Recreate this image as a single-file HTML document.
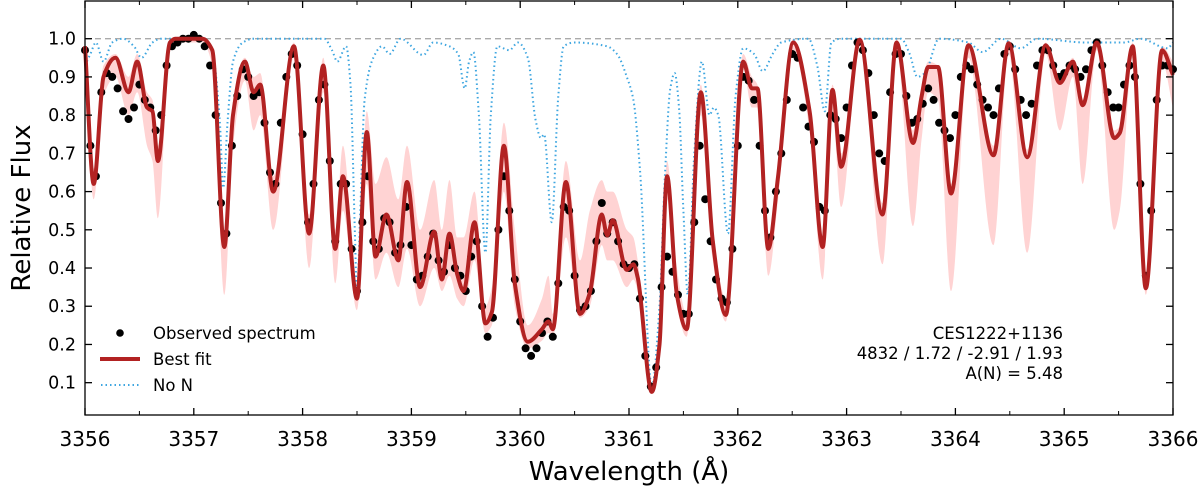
<!DOCTYPE html>
<html><head><meta charset="utf-8"><style>
html,body{margin:0;padding:0;background:#fff;}
svg{display:block;font-family:"DejaVu Sans","Liberation Sans",sans-serif;}
</style></head><body>
<svg id="chart" width="1200" height="493" viewBox="0 0 1200 493">
  <g id="band"></g>
  <line x1="85" x2="1173" y1="38.7" y2="38.7" stroke="#aaa" stroke-width="1.3" stroke-dasharray="6 4"/>
  <g id="nonl"></g>
  <g id="obs"></g>
  <g id="fit"></g>
  <g id="axes"></g>
  <g>
    <circle cx="120" cy="333" r="3.8" fill="#000"/>
    <text x="153" y="339" font-size="16.5">Observed spectrum</text>
    <line x1="100" x2="140" y1="359" y2="359" stroke="#b22222" stroke-width="4"/>
    <text x="153" y="365" font-size="16.5">Best fit</text>
    <line x1="101" x2="140" y1="385" y2="385" stroke="#3ea6e0" stroke-width="2" stroke-dasharray="1.5 3"/>
    <text x="153" y="391" font-size="16.5">No N</text>
  </g>
  <g text-anchor="end" font-size="16.5">
    <text x="1063" y="339">CES1222+1136</text>
    <text x="1063" y="359">4832 / 1.72 / -2.91 / 1.93</text>
    <text x="1063" y="379">A(N) = 5.48</text>
  </g>
  <text x="629" y="480" text-anchor="middle" font-size="26">Wavelength (Å)</text>
  <text transform="translate(30,208) rotate(-90)" text-anchor="middle" font-size="26">Relative Flux</text>
</svg>
<script>
const xTicks=[3356,3357,3358,3359,3360,3361,3362,3363,3364,3365,3366];
const yTicks=[0.1,0.2,0.3,0.4,0.5,0.6,0.7,0.8,0.9,1.0];
const fitWl=[3356.00,3356.08,3356.17,3356.28,3356.40,3356.48,3356.57,3356.62,3356.67,3356.78,3356.83,3357.08,3357.17,3357.28,3357.36,3357.47,3357.55,3357.61,3357.73,3357.92,3358.06,3358.19,3358.30,3358.37,3358.50,3358.59,3358.67,3358.77,3358.88,3358.96,3359.08,3359.21,3359.28,3359.35,3359.42,3359.48,3359.58,3359.68,3359.74,3359.85,3359.95,3360.07,3360.20,3360.26,3360.30,3360.42,3360.55,3360.64,3360.75,3360.80,3360.85,3360.98,3361.04,3361.08,3361.21,3361.28,3361.35,3361.44,3361.53,3361.66,3361.77,3361.89,3362.05,3362.13,3362.18,3362.28,3362.37,3362.51,3362.66,3362.78,3362.87,3362.95,3363.12,3363.33,3363.46,3363.61,3363.69,3363.75,3363.84,3363.96,3364.12,3364.35,3364.49,3364.66,3364.83,3364.96,3365.08,3365.17,3365.30,3365.46,3365.51,3365.63,3365.75,3365.90,3366.00];
const fitFlux=[0.98,0.62,0.90,0.95,0.86,0.94,0.82,0.81,0.68,0.99,1.00,1.00,0.97,0.455,0.80,0.94,0.86,0.88,0.60,0.98,0.49,0.93,0.45,0.64,0.32,0.756,0.43,0.54,0.42,0.625,0.35,0.495,0.37,0.49,0.385,0.34,0.52,0.255,0.285,0.72,0.36,0.207,0.24,0.26,0.24,0.625,0.28,0.335,0.54,0.485,0.525,0.395,0.41,0.375,0.076,0.20,0.64,0.33,0.24,0.86,0.47,0.277,0.94,0.87,0.87,0.45,0.64,0.99,0.81,0.455,0.866,0.665,0.997,0.54,0.99,0.727,0.85,0.926,0.926,0.595,0.983,0.695,0.988,0.69,0.983,0.884,0.94,0.826,0.99,0.74,0.753,0.98,0.347,0.97,0.905];
const bandLo=[0.96,0.58,0.85,0.90,0.80,0.86,0.72,0.68,0.53,0.97,0.99,0.99,0.93,0.33,0.72,0.89,0.76,0.80,0.50,0.95,0.40,0.86,0.36,0.55,0.29,0.62,0.37,0.44,0.35,0.45,0.30,0.40,0.34,0.38,0.32,0.30,0.42,0.23,0.25,0.60,0.30,0.19,0.21,0.23,0.22,0.48,0.27,0.30,0.46,0.42,0.42,0.35,0.37,0.34,0.07,0.18,0.58,0.30,0.22,0.80,0.42,0.26,0.92,0.82,0.82,0.38,0.58,0.97,0.76,0.37,0.80,0.56,0.98,0.41,0.97,0.51,0.74,0.86,0.84,0.34,0.95,0.46,0.96,0.44,0.96,0.76,0.90,0.62,0.97,0.50,0.55,0.95,0.33,0.94,0.82];
const bandHi=[0.99,0.66,0.93,0.96,0.90,0.96,0.86,0.84,0.72,1.0,1.0,1.0,0.98,0.50,0.84,0.95,0.90,0.91,0.64,0.99,0.54,0.95,0.50,0.72,0.36,0.81,0.62,0.69,0.58,0.72,0.50,0.63,0.50,0.63,0.48,0.48,0.60,0.30,0.35,0.78,0.50,0.25,0.32,0.38,0.28,0.68,0.42,0.55,0.63,0.60,0.60,0.50,0.48,0.42,0.09,0.24,0.68,0.40,0.28,0.88,0.50,0.32,0.96,0.90,0.88,0.48,0.68,1.0,0.83,0.48,0.88,0.70,1.0,0.57,1.0,0.76,0.88,0.94,0.93,0.62,0.99,0.72,0.99,0.71,0.99,0.89,0.95,0.84,1.0,0.76,0.77,0.99,0.38,0.98,0.94];
const noNWl=[3356.00,3356.05,3356.10,3356.17,3356.25,3356.35,3356.45,3356.52,3356.62,3356.70,3357.10,3357.18,3357.24,3357.27,3357.31,3357.36,3357.45,3357.55,3358.20,3358.27,3358.32,3358.40,3358.44,3358.48,3358.50,3358.53,3358.57,3358.65,3358.73,3358.80,3358.90,3359.11,3359.20,3359.35,3359.43,3359.49,3359.53,3359.57,3359.62,3359.68,3359.73,3359.79,3359.90,3359.98,3360.07,3360.14,3360.19,3360.22,3360.29,3360.35,3360.40,3360.50,3360.80,3360.89,3360.98,3361.04,3361.10,3361.21,3361.28,3361.33,3361.38,3361.42,3361.46,3361.50,3361.54,3361.60,3361.67,3361.74,3361.78,3361.82,3361.91,3361.98,3362.05,3362.15,3362.23,3362.32,3362.40,3362.65,3362.73,3362.80,3362.86,3362.95,3363.50,3363.58,3363.65,3363.72,3363.85,3364.12,3364.25,3364.42,3364.60,3364.75,3365.20,3365.55,3365.70,3365.95,3366.00];
const noNFlux=[0.93,0.96,0.99,0.94,0.99,1.0,0.98,0.95,0.99,1.0,1.0,0.95,0.78,0.61,0.78,0.94,0.99,1.0,1.0,0.97,0.94,0.98,0.88,0.50,0.33,0.55,0.84,0.95,0.98,0.96,1.0,0.957,0.99,0.98,0.96,0.87,0.94,0.965,0.80,0.44,0.80,0.98,0.97,0.99,0.95,0.79,0.74,0.75,0.52,0.85,0.98,0.99,0.98,0.96,0.90,0.84,0.66,0.09,0.30,0.64,0.87,0.91,0.82,0.55,0.33,0.70,0.94,0.80,0.82,0.80,0.49,0.85,0.975,0.96,0.915,0.96,0.99,1.0,0.93,0.81,0.99,1.0,1.0,0.96,0.90,0.91,1.0,0.99,0.965,1.0,0.975,1.0,0.99,0.99,1.0,0.975,0.99];
const obsStart=3356.00, obsStep=0.05;
const obsFlux=[0.97,0.72,0.64,0.86,0.91,0.90,0.87,0.81,0.79,0.82,0.88,0.84,0.82,0.76,0.80,0.93,0.98,0.99,1.00,1.00,1.01,1.00,0.98,0.93,0.80,0.57,0.49,0.72,0.85,0.92,0.90,0.85,0.86,0.78,0.65,0.62,0.78,0.90,0.96,0.93,0.75,0.52,0.62,0.84,0.88,0.68,0.47,0.62,0.62,0.45,0.34,0.52,0.64,0.47,0.45,0.53,0.52,0.44,0.46,0.56,0.46,0.37,0.38,0.43,0.49,0.42,0.39,0.46,0.40,0.38,0.34,0.43,0.47,0.30,0.22,0.27,0.50,0.64,0.55,0.37,0.26,0.19,0.17,0.19,0.23,0.26,0.22,0.36,0.56,0.55,0.38,0.29,0.30,0.34,0.47,0.57,0.49,0.52,0.47,0.41,0.40,0.41,0.32,0.17,0.09,0.14,0.35,0.43,0.39,0.33,0.28,0.28,0.52,0.72,0.58,0.47,0.37,0.32,0.31,0.45,0.72,0.90,0.89,0.84,0.72,0.55,0.48,0.60,0.70,0.84,0.96,0.95,0.82,0.77,0.73,0.56,0.55,0.80,0.79,0.74,0.82,0.93,0.99,0.97,0.91,0.80,0.70,0.68,0.86,0.96,0.96,0.85,0.78,0.79,0.83,0.87,0.84,0.78,0.76,0.74,0.80,0.90,0.93,0.92,0.88,0.84,0.82,0.80,0.87,0.96,0.98,0.92,0.84,0.80,0.83,0.93,0.97,0.97,0.93,0.90,0.91,0.93,0.92,0.90,0.92,0.97,0.99,0.93,0.86,0.82,0.82,0.88,0.93,0.90,0.62,0.38,0.55,0.84,0.93,0.93,0.92];

const X0=85,X1=1173,Y0=1,Y1=415;
const xs=w=>X0+(w-3356)*(X1-X0)/10;
const ys=f=>38.7+(1-f)*382.2;
const NS='http://www.w3.org/2000/svg';
function mk(tag,attrs,parent){const e=document.createElementNS(NS,tag);for(const k in attrs)e.setAttribute(k,attrs[k]);parent.appendChild(e);return e;}
// monotone cubic (Fritsch-Carlson), points sorted by x ascending
function mono(pts,moveTo){const n=pts.length,dx=[],s=[],m=[];
  for(let i=0;i<n-1;i++){dx[i]=pts[i+1][0]-pts[i][0];s[i]=(pts[i+1][1]-pts[i][1])/dx[i];}
  m[0]=s[0];m[n-1]=s[n-2];
  for(let i=1;i<n-1;i++){if(s[i-1]*s[i]<=0)m[i]=0;else{const w1=2*dx[i]+dx[i-1],w2=dx[i]+2*dx[i-1];m[i]=(w1+w2)/(w1/s[i-1]+w2/s[i]);}}
  let d=(moveTo?'M':'L')+pts[0][0].toFixed(1)+','+pts[0][1].toFixed(1);
  for(let i=0;i<n-1;i++){const h=dx[i]/3;
    d+='C'+(pts[i][0]+h).toFixed(1)+','+(pts[i][1]+m[i]*h).toFixed(1)+' '+(pts[i+1][0]-h).toFixed(1)+','+(pts[i+1][1]-m[i+1]*h).toFixed(1)+' '+pts[i+1][0].toFixed(1)+','+pts[i+1][1].toFixed(1);}
  return d;}
function monoRev(pts){ // pts ascending, draw from end to start
  const n=pts.length,dx=[],s=[],m=[];
  for(let i=0;i<n-1;i++){dx[i]=pts[i+1][0]-pts[i][0];s[i]=(pts[i+1][1]-pts[i][1])/dx[i];}
  m[0]=s[0];m[n-1]=s[n-2];
  for(let i=1;i<n-1;i++){if(s[i-1]*s[i]<=0)m[i]=0;else{const w1=2*dx[i]+dx[i-1],w2=dx[i]+2*dx[i-1];m[i]=(w1+w2)/(w1/s[i-1]+w2/s[i]);}}
  let d='L'+pts[n-1][0].toFixed(1)+','+pts[n-1][1].toFixed(1);
  for(let i=n-2;i>=0;i--){const h=dx[i]/3;
    d+='C'+(pts[i+1][0]-h).toFixed(1)+','+(pts[i+1][1]-m[i+1]*h).toFixed(1)+' '+(pts[i][0]+h).toFixed(1)+','+(pts[i][1]+m[i]*h).toFixed(1)+' '+pts[i][0].toFixed(1)+','+pts[i][1].toFixed(1);}
  return d;}
// band
const hiPts=fitWl.map((w,i)=>[xs(w),ys(bandHi[i])]);
const loPts=fitWl.map((w,i)=>[xs(w),ys(bandLo[i])]);
const bp=mk('path',{d:mono(hiPts,true)+monoRev(loPts)+'Z',fill:'#ffd3d3',stroke:'none'},document.getElementById('band'));


// no N
const nn=mk('path',{d:mono(noNWl.map((w,i)=>[xs(w),ys(noNFlux[i])]),true),fill:'none',stroke:'#3ea6e0','stroke-width':2,'stroke-dasharray':'1.5 3'},document.getElementById('nonl'));


// observed
const og=document.getElementById('obs');
obsFlux.forEach((f,i)=>{const c=mk('circle',{cx:xs(obsStart+i*obsStep).toFixed(1),cy:ys(f).toFixed(1),r:4,fill:'#000'},og);

});
// fit
const fp=mk('path',{d:mono(fitWl.map((w,i)=>[xs(w),ys(fitFlux[i])]),true),fill:'none',stroke:'#b22222','stroke-width':4,'stroke-linejoin':'round'},document.getElementById('fit'));


// axes
const ax=document.getElementById('axes');
const fr=mk('rect',{x:X0,y:Y0,width:X1-X0,height:Y1-Y0,fill:'none',stroke:'#000','stroke-width':1.3},ax);


xTicks.forEach(t=>{const x=xs(t);
  mk('line',{x1:x,x2:x,y1:Y1,y2:Y1-7,stroke:'#000','stroke-width':1.3},ax);
  mk('line',{x1:x,x2:x,y1:Y0,y2:Y0+7,stroke:'#000','stroke-width':1.3},ax);
  const tx=mk('text',{x:x,y:446,'text-anchor':'middle','font-size':20},ax);tx.textContent=t;
  
  });
for(let t=3356.5;t<3366;t+=1){const x=xs(t);
  mk('line',{x1:x,x2:x,y1:Y1,y2:Y1-4,stroke:'#000','stroke-width':1},ax);
  mk('line',{x1:x,x2:x,y1:Y0,y2:Y0+4,stroke:'#000','stroke-width':1},ax);}
yTicks.forEach(t=>{const y=ys(t);
  mk('line',{x1:X0,x2:X0+7,y1:y,y2:y,stroke:'#000','stroke-width':1.3},ax);
  mk('line',{x1:X1,x2:X1-7,y1:y,y2:y,stroke:'#000','stroke-width':1.3},ax);
  const tx=mk('text',{x:76,y:y+6,'text-anchor':'end','font-size':17.5},ax);tx.textContent=t.toFixed(1);
  
  });
</script>
</body></html>
